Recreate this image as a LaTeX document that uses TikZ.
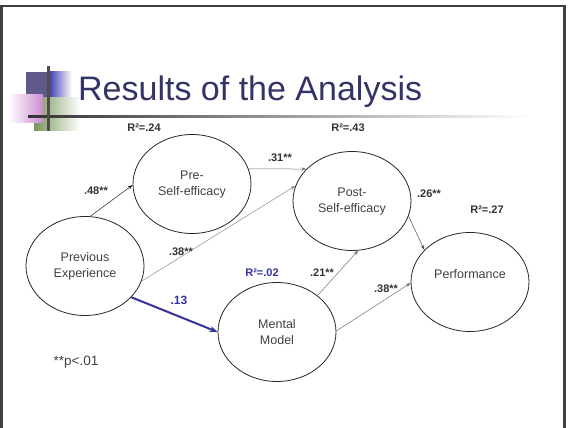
\documentclass[tikz,border=0pt]{standalone}
\usepackage{fontspec}
\setmainfont{Liberation Sans}
\usetikzlibrary{shapes.geometric,arrows.meta}
\definecolor{titleblue}{RGB}{51,51,102}
\definecolor{pathblue}{RGB}{51,51,153}
\definecolor{framegray}{RGB}{64,64,64}
\definecolor{txtgray}{RGB}{64,64,64}
\definecolor{decopurple}{RGB}{96,90,140}
\definecolor{decoblue}{RGB}{70,70,180}
\definecolor{decopink}{RGB}{205,140,210}
\definecolor{decoolive}{RGB}{120,150,90}
\definecolor{decogreen}{RGB}{100,185,70}
\definecolor{decobar}{RGB}{85,75,75}

\begin{document}
\begin{tikzpicture}[x=1pt,y=-1pt,
  construct/.style={draw=black!85,line width=0.8pt,ellipse,minimum width=118pt,
    minimum height=99pt,inner sep=0pt,align=center,text=txtgray,
    font=\fontsize{12.5}{16}\selectfont},
  coef/.style={font=\bfseries\fontsize{11}{13}\selectfont,text=black!80,inner sep=0pt},
  link/.style={-{Stealth[length=5pt,width=3.5pt]},line width=0.5pt},
  bluelink/.style={-{Stealth[length=8pt,width=6pt]},line width=2pt,draw=pathblue}]
\useasboundingbox (0,0) rectangle (568,428);
% slide frame
\draw[framegray,line width=2.5pt] (1.5,440) -- (1.5,6) -- (564.5,6) -- (564.5,440);

% title decoration
\fill[decopurple] (26,72) rectangle (50,98);
\shade[left color=decoblue,right color=white] (50,72) rectangle (72,98);
\shade[left color=decoolive,middle color=decogreen,right color=white] (34,98) rectangle (80,130);
\shade[left color=white,right color=decopink] (8,95) rectangle (43,122);
\shade[left color=black!80,right color=white] (28,115) rectangle (530,117.5);
\fill[decobar] (47,66) rectangle (49.5,131);
\node[anchor=base west,text=titleblue,font=\fontsize{34}{40}\selectfont,inner sep=0pt]
  (title) at (78,100) {Results of the Analysis};

% constructs
\node[construct] (prev) at (85,266) {Previous\\Experience};
\node[construct] (pre) at (192,184) {Pre-\\Self-efficacy};
\node[construct] (post) at (352,201) {Post-\\Self-efficacy};
\node[construct] (mental) at (277,332) {Mental\\Model};
\node[construct] (perf) at (470,282) {Performance\\\phantom{P}};

% paths
\draw[link,black!85] (prev.84) -- (pre.181);
\draw[link,black!55] (pre.15) -- (post.145);
\draw[link,black!45] (prev.-15) -- (post.165);
\draw[link,black!70] (post.-15) -- (perf.145);
\draw[bluelink] (prev.-34) -- (mental.180);
\draw[link,black!55] (mental.42) -- (post.-83);
\draw[link,black!55] (mental.1) -- (perf.181);

% coefficients
\node[coef] (r24) at (144,128) {R²=.24};
\node[coef] (r43) at (348,128) {R²=.43};
\node[coef] (r27) at (487,210) {R²=.27};
\node[coef,text=pathblue] (r02) at (262,273) {R²=.02};
\node[coef] (c48) at (96,191) {.48**};
\node[coef] (c31) at (280,158) {.31**};
\node[coef] (c38a) at (181,252) {.38**};
\node[coef] (c26) at (429,194) {.26**};
\node[coef] (c21) at (322,273) {.21**};
\node[coef] (c38b) at (386,289) {.38**};
\node[coef,text=pathblue,font=\bfseries\fontsize{12}{14}\selectfont] (c13) at (179,300) {.13};
\node[text=txtgray,font=\fontsize{13.5}{16}\selectfont,inner sep=0pt] (sig) at (76,362) {**p<.01};
\end{tikzpicture}
\end{document}
